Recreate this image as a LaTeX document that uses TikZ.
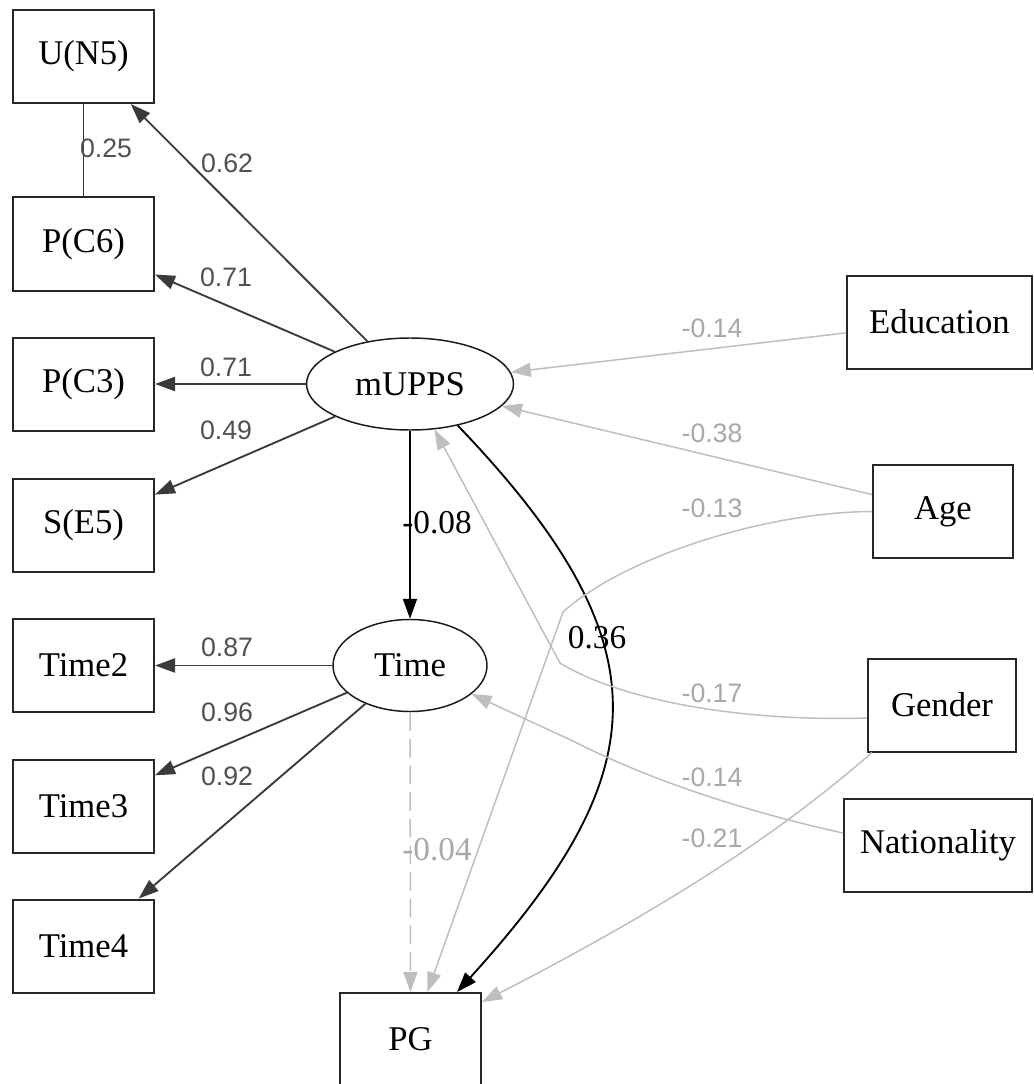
\documentclass[tikz,border=0pt]{standalone}
\usepackage{fontspec}
\setmainfont{Liberation Serif}
\newfontfamily\lblfont{Liberation Sans}
\usetikzlibrary{arrows.meta,calc,shapes.geometric}
\definecolor{darkedge}{HTML}{3A3A3A}
\definecolor{lightedge}{HTML}{BEBEBE}
\definecolor{darklbl}{HTML}{505050}
\definecolor{lightlbl}{HTML}{A8A8A8}
\begin{document}
\begin{tikzpicture}[x=0.75pt,y=-0.75pt,
  box/.style={draw=black!85,line width=1.5pt,minimum width=#1,minimum height=69.75pt,inner sep=0pt,font=\fontsize{26}{30}\selectfont},
  lat/.style={ellipse,draw=black!90,line width=1.1pt,minimum height=69pt,inner sep=0pt,font=\fontsize{26}{30}\selectfont},
  tip/.style={-{Triangle[length=15pt,width=10.5pt]}},
  dk/.style={tip,draw=darkedge,line width=1.4pt,fill=none,
     /tikz/arrows={-{Triangle[length=15pt,width=10.5pt,fill=darkedge]}}},
  blk/.style={draw=black,line width=1.4pt,
     /tikz/arrows={-{Triangle[length=15pt,width=10.5pt,fill=black]}}},
  lt/.style={draw=lightedge,line width=1.1pt,
     /tikz/arrows={-{Triangle[length=15pt,width=10.5pt,fill=lightedge]}}},
  dl/.style={text=darklbl,font=\lblfont\fontsize{20}{24}\selectfont,inner sep=0pt},
  ll/.style={text=lightlbl,font=\lblfont\fontsize{20}{24}\selectfont,inner sep=0pt},
  sl/.style={font=\fontsize{25}{29}\selectfont,inner sep=0pt}
]
\useasboundingbox[fill=white] (0,0) rectangle (1034,1084);

% observed variables
\node[box=105.75pt] (UN5) at (83.5,56.5) {U(N5)};
\node[box=105.75pt] (PC6) at (83.5,244) {P(C6)};
\node[box=105.75pt] (PC3) at (83.5,384) {P(C3)};
\node[box=105.75pt] (SE5) at (83.5,525.5) {S(E5)};
\node[box=105.75pt] (T2) at (83.5,665.5) {Time2};
\node[box=105.75pt] (T3) at (83.5,806) {Time3};
\node[box=105.75pt] (T4) at (83.5,946) {Time4};
\node[box=105.75pt] (PG) at (410.5,1039.5) {PG};
\node[box=138.75pt] (Edu) at (939.5,322) {Education};
\node[box=105pt] (Age) at (943,511.5) {Age};
\node[box=111pt] (Gen) at (942,705) {Gender};
\node[box=141pt] (Nat) at (938,845) {Nationality};

% latent variables
\node[lat,minimum width=155.25pt] (mU) at (410,384) {mUPPS};
\node[lat,minimum width=115.5pt] (Time) at (410,665.5) {Time};

% loadings
\draw[dk] (mU) -- (UN5);
\draw[draw=darkedge,line width=1.4pt] (UN5) -- (PC6);
\draw[dk] (mU) -- (PC6);
\draw[dk] (mU) -- (PC3);
\draw[dk] (mU) -- (SE5);
\draw[dk] (Time) -- (T2);
\draw[dk] (Time) -- (T3);
\draw[dk] (Time) -- (T4);

% structural paths
\draw[blk] (mU) -- (Time);
\draw[lt,dash pattern=on 14pt off 6pt] (Time) -- (PG);
\draw[blk] (mU.-41) .. controls (667,644) and (658,771) .. ([xshift=34.9pt]PG.north);

% covariates
\draw[lt] (Edu) -- (mU);
\draw[lt] (Age) -- (mU);
\draw[lt] (Age.west) .. controls (760,512) and (620,560) .. (563,612) -- (PG);
\draw[lt] ([yshift=-9.75pt]Gen.west) .. controls (740,722) and (620,700) .. (560,663) -- (mU);
\draw[lt] ([yshift=9pt]Nat.west) .. controls (730,808) and (640,775) .. (575,742) -- (Time);
\draw[lt] ([xshift=3.75pt]Gen.south west) .. controls (800,815) and (700,890) .. ([yshift=-7.5pt]PG.north east);

% labels
\node[dl] (l1) at (106,148) {0.25};
\node[dl] (l2) at (227,163) {0.62};
\node[dl] (l3) at (226,277) {0.71};
\node[dl] (l4) at (226,367) {0.71};
\node[dl] (l5) at (226,430) {0.49};
\node[dl] (l6) at (227,647) {0.87};
\node[dl] (l7) at (227,712) {0.96};
\node[dl] (l8) at (227,776) {0.92};
\node[sl] (l9) at (437,523) {-0.08};
\node[sl,text=lightlbl] (l10) at (437,850) {-0.04};
\node[sl] (l11) at (597,638) {0.36};
\node[ll] (l12) at (712,328) {-0.14};
\node[ll] (l13) at (712,433) {-0.38};
\node[ll] (l14) at (712,508) {-0.13};
\node[ll] (l15) at (712,693) {-0.17};
\node[ll] (l16) at (712,777) {-0.14};
\node[ll] (l17) at (712,838) {-0.21};
\end{tikzpicture}
\end{document}
